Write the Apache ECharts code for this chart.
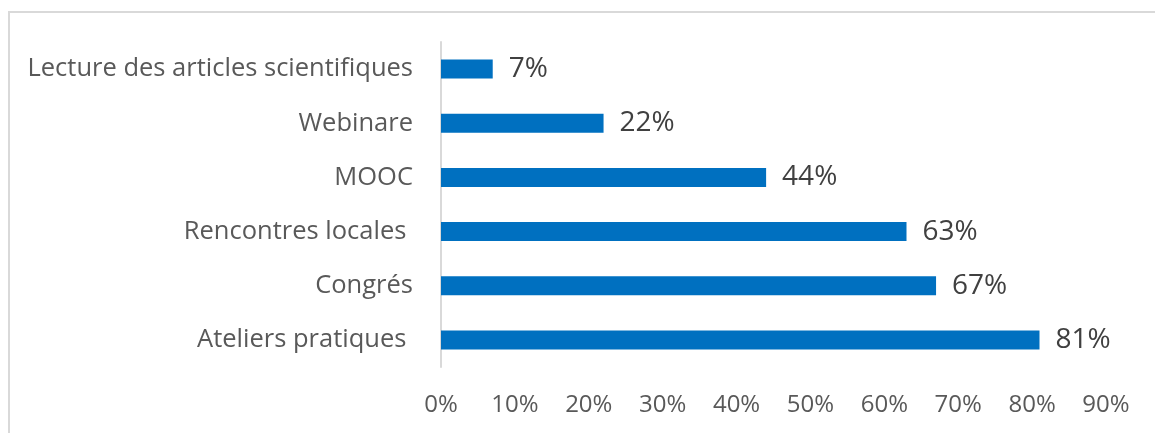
<!DOCTYPE html>
<html>
<head>
<meta charset="utf-8">
<script src="https://cdn.jsdelivr.net/npm/echarts@6/dist/echarts.min.js"></script>
<style>
  html, body { margin: 0; padding: 0; background: #ffffff; }
  #chart { width: 1155px; height: 433px; }
</style>
</head>
<body>
<div id="chart"></div>
<script>
// Training formats, listed bottom to top as they appear on the y axis
const categories = [
  'Ateliers pratiques ',
  'Congrés',
  'Rencontres locales ',
  'MOOC',
  'Webinare',
  'Lecture des articles scientifiques'
];
// Share of respondents (%)
const shares = [81, 67, 63, 44, 22, 7];
// Percentage scale
const axisMax = 90;
const axisStep = 10;

const FONT = '"Open Sans", Lato, sans-serif';

const chart = echarts.init(document.getElementById('chart'), null, { renderer: 'canvas' });

chart.setOption({
  backgroundColor: '#ffffff',
  animation: false,
  graphic: [{
    type: 'rect',
    silent: true,
    shape: { x: 9, y: 12, width: 1300, height: 600 },
    style: { fill: 'none', stroke: '#D9D9D9', lineWidth: 2 }
  }],
  grid: { left: 441, right: 49, top: 42, bottom: 66, containLabel: false },
  xAxis: {
    type: 'value',
    min: 0,
    max: axisMax,
    interval: axisStep,
    axisLine: { show: false },
    axisTick: { show: false },
    splitLine: { show: false },
    axisLabel: {
      margin: 26,
      color: '#595959',
      fontFamily: FONT,
      fontSize: 24,
      formatter: v => v + '%'
    }
  },
  yAxis: {
    type: 'category',
    data: categories,
    axisLine: { show: true, lineStyle: { color: '#D9D9D9', width: 2 } },
    axisTick: { show: false },
    axisLabel: {
      margin: 28,
      color: '#595959',
      fontFamily: FONT,
      fontSize: 25.5
    }
  },
  series: [{
    type: 'bar',
    data: shares,
    barWidth: 19,
    itemStyle: { color: '#0070C0' },
    label: {
      show: true,
      position: 'right',
      distance: 16,
      color: '#404040',
      fontFamily: FONT,
      fontSize: 28,
      formatter: p => p.value + '%'
    }
  }]
});
</script>
</body>
</html>
